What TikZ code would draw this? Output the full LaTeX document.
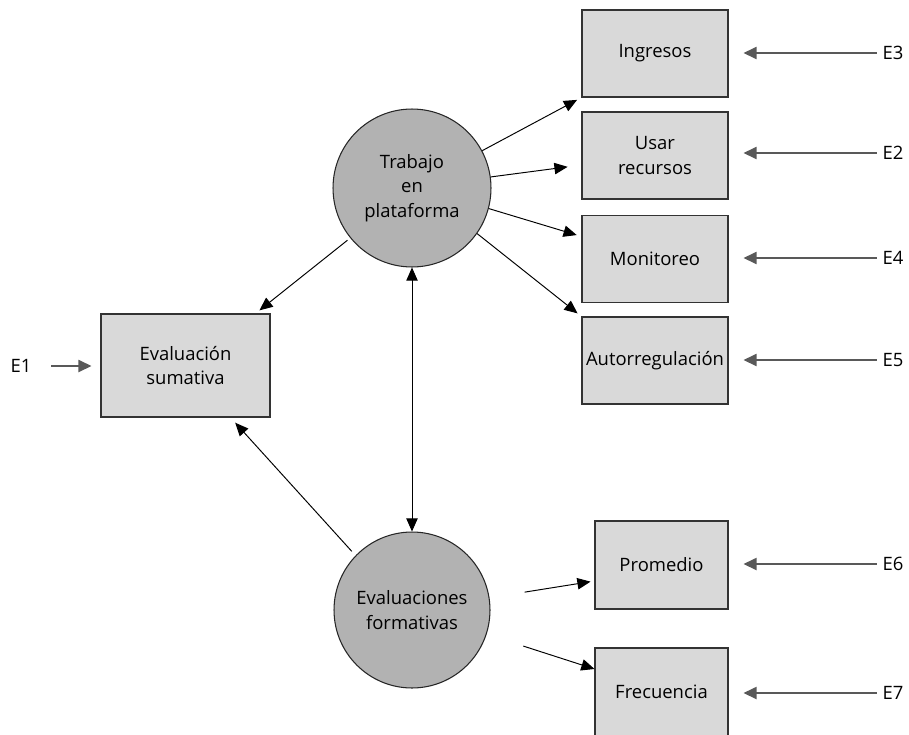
\documentclass[tikz,border=0pt]{standalone}
\usepackage{fontspec}
\setmainfont{Open Sans}
\usetikzlibrary{arrows.meta,calc}

\begin{document}
\begin{tikzpicture}[x=0.02cm,y=-0.02cm,
        font=\fontsize{10.5}{14}\selectfont,
        caja/.style={draw=black!80,fill=black!15,line width=0.6pt,minimum width=2.92cm,minimum height=1.74cm,align=center,inner sep=0pt},
        latente/.style={circle,draw=black!85,fill=black!30,line width=0.6pt,minimum size=3.16cm,align=center,inner sep=0pt},
        error/.style={inner sep=2pt},
        punta/.style={-{Triangle[length=7.5pt,width=6.5pt]}},
        flecha/.style={line width=0.55pt,punta},
        flechae/.style={draw=black!65,line width=0.8pt,shorten <=0.04cm,shorten >=0.3cm,-{Triangle[length=7.5pt,width=7pt]}}]
        \useasboundingbox (0,0) rectangle (909,734);
        \node[latente] (trabajo) at (412,188) {Trabajo\\en\\plataforma};
        \node[latente,minimum size=3.12cm] (formativas) at (412,610) {Evaluaciones\\formativas};
        \node[caja] (ingresos) at (655,53.5) {Ingresos};
        \node[caja] (usar) at (655,155.5) {Usar\\recursos};
        \node[caja] (monitoreo) at (655,259) {Monitoreo};
        \node[caja] (autorregulacion) at (655,360.5) {Autorregulación};
        \node[caja,minimum width=3.38cm,minimum height=2.06cm] (sumativa) at (185.5,365.5) {Evaluación\\sumativa};
        \node[caja,minimum width=2.66cm,minimum height=1.76cm] (promedio) at (661.5,565) {Promedio};
        \node[caja,minimum width=2.66cm,minimum height=1.76cm] (frecuencia) at (661.5,692) {Frecuencia};
        \node[error] (e3) at (893,53) {E3};
        \node[error] (e2) at (893,153) {E2};
        \node[error] (e4) at (893,258) {E4};
        \node[error] (e5) at (893,360) {E5};
        \node[error] (e6) at (893,564) {E6};
        \node[error] (e7) at (893,693) {E7};
        \node[error] (e1) at (21,366) {E1};
        \draw[flecha,shorten >=0.1cm] (trabajo.28) -- (ingresos.south west);
        \draw[flecha,shorten >=0.28cm] (trabajo.8) -- ($(usar.west)+(0,9.5)$);
        \draw[flecha,shorten >=0.1cm] (trabajo.-15) -- ($(monitoreo.west)+(0,-22.5)$);
        \draw[flecha,shorten >=0.1cm] (trabajo.-35) -- (autorregulacion.north west);
        \draw[flecha,shorten <=0.07cm,shorten >=0.1cm] (trabajo.219) -- ($(sumativa.north east)+(-15,0)$);
        \draw[flecha,shorten <=0.11cm,shorten >=0.14cm] (formativas.136) -- ($(sumativa.south east)+(-40,0)$);
        \draw[line width=0.55pt,{Triangle[length=7.5pt,width=6.5pt]}-{Triangle[length=7.5pt,width=6.5pt]}] (trabajo.south) -- (formativas.north);
        \draw[flecha,shorten <=0.71cm,shorten >=0.08cm] (formativas.9) -- ($(promedio.west)+(0,16)$);
        \draw[flecha,shorten <=0.77cm] (formativas.-18) -- ($(frecuencia.west)+(0,-23)$);
        \draw[flechae] (e3.west) -- (e3.west -| ingresos.east);
        \draw[flechae] (e2.west) -- (e2.west -| usar.east);
        \draw[flechae] (e4.west) -- (e4.west -| monitoreo.east);
        \draw[flechae] (e5.west) -- (e5.west -| autorregulacion.east);
        \draw[flechae] (e6.west) -- (e6.west -| promedio.east);
        \draw[flechae] (e7.west) -- (e7.west -| frecuencia.east);
        \draw[flechae,shorten <=0.32cm,shorten >=0.18cm] (e1.east) -- (e1.east -| sumativa.west);
\end{tikzpicture}
\end{document}
